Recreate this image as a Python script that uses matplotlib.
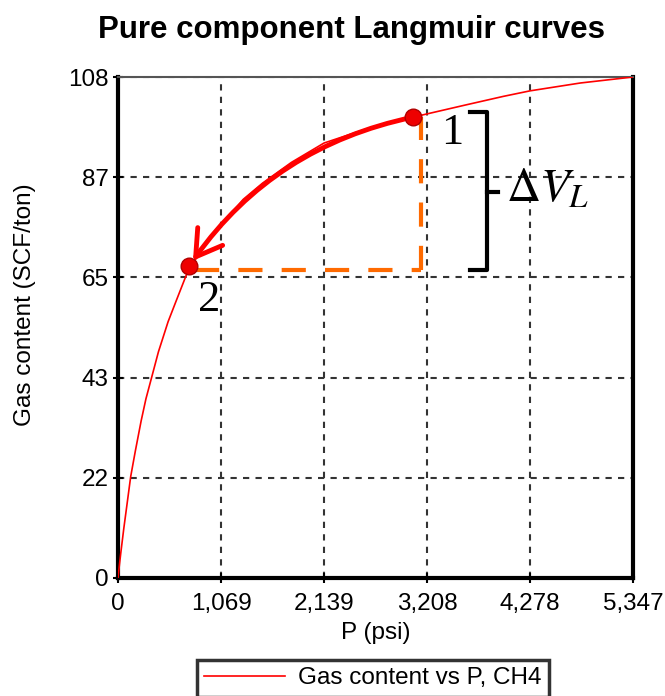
import matplotlib
matplotlib.use("Agg")
import matplotlib.pyplot as plt
from matplotlib.patches import FancyArrowPatch

# ---- data ----
pressure = [0, 15, 30, 60, 90, 132, 180, 240, 290, 350, 420, 520, 600, 726, 900,
            1069, 1300, 1500, 1800, 2139, 2600, 3062, 3600, 4000, 4278, 4800, 5347]
gas_content = [0, 2.9, 5.6, 10.7, 15.4, 22, 27.5, 34, 38.8, 43.5, 49, 55.5, 59.8, 66.5, 72,
               76.5, 82, 85.5, 90, 94.2, 97.4, 99.8, 102.4, 104.3, 105.5, 107.2, 108.5]

x_ticks = [0, 1069.4, 2138.8, 3208.2, 4277.6, 5347]
x_tick_labels = ["0", "1,069", "2,139", "3,208", "4,278", "5,347"]
y_ticks = [0, 21.7, 43.4, 65.1, 86.8, 108.5]
y_tick_labels = ["0", "22", "43", "65", "87", "108"]

point1 = (3062, 99.8)
point2 = (737, 67.5)
corner_p = 3145
corner_v = 66.7

plt.rcParams['font.family'] = ['Liberation Sans', 'DejaVu Sans']
plt.rcParams['mathtext.fontset'] = 'stix'

W, H = 665, 696
fig = plt.figure(figsize=(W / 100, H / 100), dpi=100)
ax = fig.add_axes([118 / W, 1 - 578 / H, (633 - 118) / W, (578 - 77) / H])

ax.plot(pressure, gas_content, color='#ff0000', lw=1.2, zorder=3, label='Gas content vs P, CH4')

ax.set_xlim(0, 5347)
ax.set_ylim(0, 108.5)
ax.set_xticks(x_ticks)
ax.set_xticklabels(x_tick_labels)
ax.set_yticks(y_ticks)
ax.set_yticklabels(y_tick_labels)
ax.tick_params(labelsize=17.5, direction='inout', length=7, width=1.5)
ax.tick_params(axis='x', pad=7)
ax.tick_params(axis='y', pad=3)
ax.grid(True, color='#333333', linestyle=(0, (3, 3)), lw=1.5)
ax.set_axisbelow(True)

for side in ['left', 'bottom', 'right']:
    ax.spines[side].set_linewidth(3)
    ax.spines[side].set_color('black')
ax.spines['top'].set_linewidth(1.5)
ax.spines['top'].set_color('#555555')

ax.set_xlabel('P (psi)', fontsize=17.5, labelpad=5)
fig.text(25 / W, 1 - 305 / H, 'Gas content (SCF/ton)', rotation=90, fontsize=17.5,
         ha='center', va='center')
fig.text(352 / W, 1 - 30 / H, 'Pure component Langmuir curves', fontsize=22.5,
         fontweight='bold', ha='center', va='center')

# orange dashed guide lines
orange = '#ff6a00'
ax.plot([point2[0] + 60, corner_p], [corner_v, corner_v], color=orange, lw=3,
        dashes=(5.8, 4.6), zorder=4)
ax.plot([corner_p, corner_p], [corner_v, point1[1]], color=orange, lw=3,
        dashes=(5.8, 4.6), zorder=4)

# curved arrow
arr = FancyArrowPatch(point1, point2, connectionstyle='arc3,rad=0.2',
                      arrowstyle='->,head_length=0.9,head_width=0.55',
                      mutation_scale=20, color='#ff0000', lw=3.5,
                      shrinkA=0, shrinkB=5, zorder=5)
ax.add_patch(arr)

# markers
ax.plot([point1[0], point2[0]], [point1[1], point2[1]], 'o', ms=12,
        color='#ee0000', mec='#b00000', mew=1, zorder=6)

# bracket
bx0, bx1, bx2 = 3653, 3830, 3950
btop, bbot, bmid = 100.9, 66.7, 83.6
ax.plot([bx0, bx1, bx1, bx0], [btop, btop, bbot, bbot], color='black', lw=3,
        solid_joinstyle='round', zorder=5)
ax.plot([bx1, bx2], [bmid, bmid], color='black', lw=3, zorder=5)

serif = ['Liberation Serif', 'DejaVu Serif']
ax.text(3360, 100.6, '1', family=serif, fontsize=32, ha='left', va='top', zorder=7)
ax.text(830, 64.5, '2', family=serif, fontsize=32, ha='left', va='top', zorder=7)
ax.text(4030, 84, r'$\Delta V_L$', fontsize=34, ha='left', va='center', zorder=7)

leg = fig.legend(loc='upper center', bbox_to_anchor=(373 / W, 1 - 660 / H),
                 fontsize=17.5, frameon=True, fancybox=False, edgecolor='black',
                 handlelength=3.3, handletextpad=0.55, borderaxespad=0, borderpad=0.3)
leg.get_frame().set_linewidth(2.5)

fig.savefig('out.png', dpi=100)
